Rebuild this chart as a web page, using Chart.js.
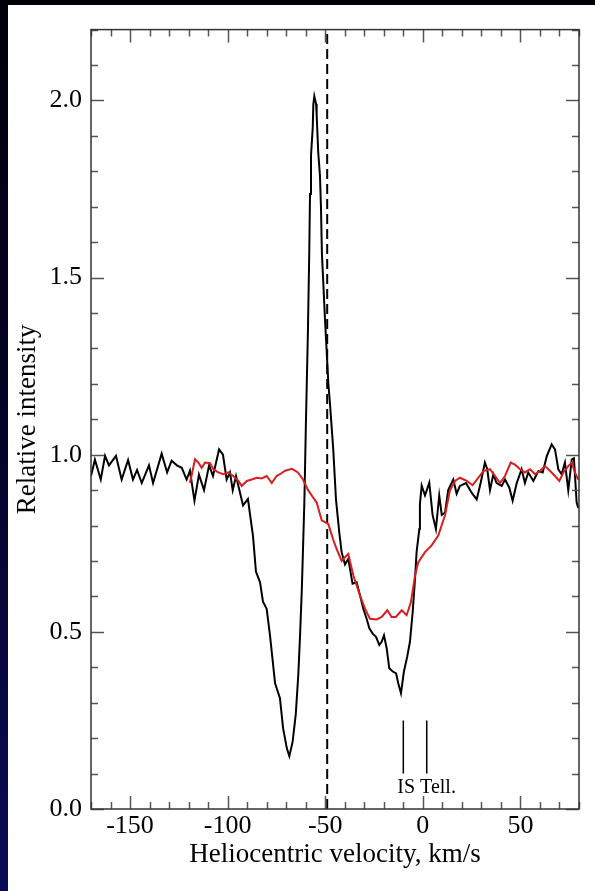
<!DOCTYPE html>
<html><head><meta charset="utf-8">
<script src="https://cdn.jsdelivr.net/npm/chart.js@4.4.0/dist/chart.umd.min.js"></script>
<style>
html,body{margin:0;padding:0;width:595px;height:891px;overflow:hidden;}
body{background:linear-gradient(to bottom,#00000a 0%,#04042a 50%,#0b0b55 100%);position:relative;}
#c{position:absolute;left:8px;top:5px;background:#fff;}
</style></head><body>
<canvas id="c" width="587" height="886"></canvas>
<script>
// ---- data ----
const blackVelocity = [-170,-168,-165,-162.8,-160.8,-157.2,-154.3,-151,-148.5,-146.4,
 -144,-140.3,-138.2,-133.8,-131,-128.7,-126,-123.5,-121,-119.3,
 -117,-114.7,-112.1,-109.5,-107.5,-104.4,-102.4,-100.5,-98.8,-97.4,
 -95.7,-92.1,-89.6,-88.5,-87,-85.5,-83.4,-81.9,-80,-78.3,
 -75.7,-73.2,-71.6,-69.7,-68.4,-66.7,-65.1,-63.8,-62.9,-62,
 -61.2,-60.7,-59.9,-58.9,-58.2,-57.8,-57.3,-56.4,-56.1,-55.6,
 -54.7,-54.4,-53.6,-52.7,-52.2,-51.7,-50.1,-48.4,-47.6,-45.9,
 -44.5,-42.8,-41.6,-39.9,-38.2,-36.0,-33.9,-32.2,-30.5,-28.8,
 -27.4,-25.7,-24.0,-22.3,-21.1,-19.9,-18.5,-17.2,-15.4,-13.7,
 -12.6,-11.2,-9.7,-8.0,-6.6,-5.2,-4.0,-3.2,-1.8,-1.5,
 -0.6,1.1,3.3,5.0,6.7,8.4,9.7,11.4,13.0,15.6,
 17.3,19.0,22.1,25.0,27.6,29.6,31.8,33.0,34.4,36.1,
 37.8,40.4,42.1,44.3,46.0,48.1,50.6,52.3,54.0,56.6,
 59.2,61.4,63.5,66.0,67.7,69.4,71.1,72.8,74.5,76.3,
 77.4,78.8,79.6];
const blackIntensity = [0.94,0.986,0.93,0.997,0.97,0.997,0.93,0.985,0.93,0.957,
 0.92,0.97,0.92,1.003,0.95,0.983,0.97,0.963,0.93,0.955,
 0.87,0.944,0.90,0.97,0.94,1.015,1.0,0.93,0.95,0.90,
 0.94,0.857,0.875,0.83,0.77,0.67,0.64,0.585,0.565,0.49,
 0.355,0.313,0.228,0.172,0.149,0.19,0.267,0.379,0.49,0.62,
 0.77,0.865,1.09,1.34,1.567,1.736,1.844,1.924,1.989,2.012,
 1.99,1.96,1.854,1.787,1.70,1.567,1.38,1.20,1.146,1.015,
 0.874,0.78,0.725,0.69,0.706,0.636,0.64,0.603,0.565,0.537,
 0.51,0.495,0.486,0.463,0.472,0.49,0.453,0.397,0.388,0.383,
 0.355,0.327,0.388,0.43,0.472,0.556,0.65,0.725,0.79,0.86,
 0.913,0.885,0.921,0.83,0.79,0.885,0.83,0.837,0.90,0.93,
 0.89,0.912,0.92,0.893,0.874,0.92,0.978,0.959,0.90,0.945,
 0.92,0.912,0.93,0.907,0.87,0.92,0.959,0.92,0.95,0.926,
 0.954,0.95,0.996,1.029,1.015,0.959,0.945,0.978,0.90,0.987,
 0.99,0.865,0.85];
const redVelocity = [-119.3,-116.7,-115.0,-113.3,-111.6,-109.0,-107.3,-104.8,-102.2,-99.7,
 -97.1,-94.5,-92.8,-90.2,-87.7,-85.1,-82.6,-80.0,-77.4,-74.9,
 -73.2,-70.6,-67.0,-64.0,-61.4,-58.8,-56.3,-54.4,-51.8,-50.1,
 -48.4,-45.9,-44.2,-41.6,-39.0,-38.2,-35.6,-32.2,-29.6,-27.1,
 -23.6,-21.1,-18.2,-16.0,-13.8,-10.8,-8.3,-6.1,-4.0,-2.3,
 1.1,4.5,7.9,11.4,13.9,16.5,19.0,22.5,25.5,28.4,
 31.0,34.4,37.0,39.5,42.1,45.0,47.2,49.8,52.3,54.9,
 57.5,60.0,62.6,65.2,67.7,69.9,72.0,74.5,76.3,77.9,
 79.6];
const redIntensity = [0.92,0.987,0.978,0.963,0.978,0.976,0.959,0.95,0.945,0.95,
 0.94,0.926,0.912,0.926,0.93,0.935,0.933,0.94,0.92,0.94,
 0.945,0.955,0.96,0.95,0.93,0.90,0.88,0.865,0.815,0.81,
 0.804,0.76,0.734,0.70,0.716,0.72,0.659,0.603,0.565,0.537,
 0.535,0.542,0.561,0.542,0.542,0.561,0.547,0.584,0.659,0.697,
 0.725,0.744,0.772,0.83,0.90,0.926,0.935,0.926,0.914,0.935,
 0.954,0.959,0.94,0.92,0.94,0.978,0.972,0.959,0.95,0.959,
 0.945,0.954,0.968,0.954,0.94,0.926,0.95,0.968,0.978,0.95,
 0.93];
const xTickValues = [-150,-100,-50,0,50];
const yTickValues = [0,0.5,1.0,1.5,2.0];
const xRange = [-170, 80];
const yRange = [0, 2.2];
const restVelocity = -49;            // dashed vertical line
const markerVelocities = [-10, 2];   // IS and Tell. markers
const markerRange = [0.1, 0.25];
const markerLabel = 'IS Tell.';
const xTitle = 'Heliocentric velocity, km/s';
const yTitle = 'Relative intensity';

// ---- chart ----
const SERIF = '"Liberation Serif", "Times New Roman", serif';
const pts = (xs, ys) => xs.map((v, i) => ({x: v, y: ys[i]}));

const datasets = [
  {data: pts(redVelocity, redIntensity), borderColor: '#d81e1e', borderWidth: 2, order: 0},
  {data: pts(blackVelocity, blackIntensity), borderColor: '#000', borderWidth: 2, order: 1},
  {data: [{x: restVelocity, y: yRange[0]}, {x: restVelocity, y: yRange[1]}], borderColor: '#000', borderWidth: 2, borderDash: [10, 5], order: 2},
];
markerVelocities.forEach(v => datasets.push({
  data: [{x: v, y: markerRange[0]}, {x: v, y: markerRange[1]}], borderColor: '#000', borderWidth: 1.5, order: 3
}));
datasets.forEach(d => { d.showLine = true; d.pointRadius = 0; d.fill = false; d.tension = 0; });

const frameTicks = {
  id: 'frameTicks',
  afterDatasetsDraw(chart) {
    const {ctx, chartArea: a, scales: {x, y}} = chart;
    ctx.save();
    ctx.strokeStyle = '#555';
    ctx.lineWidth = 1.5;
    ctx.beginPath();
    for (let v = Math.ceil(x.min / 10) * 10; v <= x.max; v += 10) {
      const p = Math.round(x.getPixelForValue(v)) + 0.5;
      const len = (v % 50 === 0) ? 13 : 7;
      ctx.moveTo(p, a.bottom); ctx.lineTo(p, a.bottom - len);
      ctx.moveTo(p, a.top); ctx.lineTo(p, a.top + len);
    }
    for (let i = Math.ceil(y.min * 10); i <= Math.floor(y.max * 10 + 1e-6); i++) {
      const p = Math.round(y.getPixelForValue(i / 10)) + 0.5;
      const len = (i % 5 === 0) ? 13 : 7;
      ctx.moveTo(a.left, p); ctx.lineTo(a.left + len, p);
      ctx.moveTo(a.right, p); ctx.lineTo(a.right - len, p);
    }
    ctx.stroke();
    ctx.strokeStyle = '#333';
    ctx.lineWidth = 1.5;
    ctx.strokeRect(a.left, a.top, a.right - a.left, a.bottom - a.top);
    // marker label
    ctx.fillStyle = '#000';
    ctx.font = '20px ' + SERIF;
    ctx.textAlign = 'left';
    ctx.textBaseline = 'alphabetic';
    ctx.fillText(markerLabel, x.getPixelForValue(markerVelocities[0]) - 6, y.getPixelForValue(0.045));
    ctx.restore();
  }
};

new Chart(document.getElementById('c'), {
  type: 'scatter',
  data: {datasets},
  plugins: [frameTicks],
  options: {
    responsive: false, animation: false, devicePixelRatio: 1,
    layout: {padding: {left: 0, top: 19, right: 16, bottom: 0}},
    plugins: {legend: {display: false}, tooltip: {enabled: false}},
    scales: {
      x: {
        type: 'linear', min: xRange[0], max: xRange[1],
        afterBuildTicks: ax => { ax.ticks = xTickValues.map(v => ({value: v})); },
        afterFit: ax => { ax.height = 82; },
        grid: {display: false, drawTicks: false},
        border: {display: false},
        ticks: {color: '#000', padding: 2, maxRotation: 0, autoSkip: false,
                font: {family: SERIF, size: 26, lineHeight: 1.2},
                callback: v => String(v)},
        title: {display: true, text: xTitle, color: '#000', padding: {top: 0, bottom: 20},
                font: {family: SERIF, size: 27, lineHeight: 1.2}}
      },
      y: {
        type: 'linear', min: yRange[0], max: yRange[1],
        afterBuildTicks: ax => { ax.ticks = yTickValues.map(v => ({value: v})); },
        afterFit: ax => { ax.width = 83; },
        grid: {display: false, drawTicks: false},
        border: {display: false},
        ticks: {color: '#000', padding: 9, autoSkip: false,
                font: {family: SERIF, size: 26, lineHeight: 1.2},
                callback: v => Number(v).toFixed(1)},
        title: {display: true, text: yTitle, color: '#000', padding: {top: 4, bottom: 0},
                font: {family: SERIF, size: 27, lineHeight: 1.2}}
      }
    }
  }
});
</script>
</body></html>
